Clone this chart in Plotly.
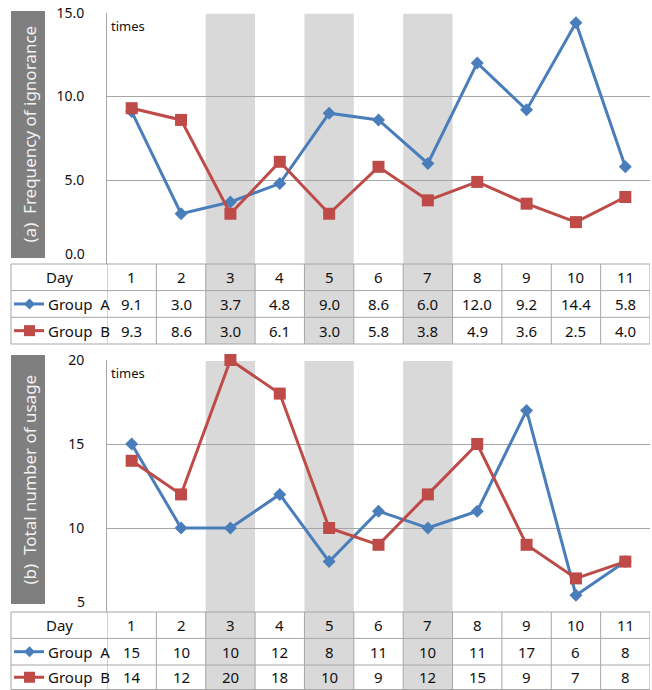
import plotly.graph_objects as go

# ---------------- data ----------------
days = [1, 2, 3, 4, 5, 6, 7, 8, 9, 10, 11]
shaded_days = [3, 5, 7]

ign_a = [9.1, 3.0, 3.7, 4.8, 9.0, 8.6, 6.0, 12.0, 9.2, 14.4, 5.8]
ign_b = [9.3, 8.6, 3.0, 6.1, 3.0, 5.8, 3.8, 4.9, 3.6, 2.5, 4.0]

use_a = [15, 10, 10, 12, 8, 11, 10, 11, 17, 6, 8]
use_b = [14, 12, 20, 18, 10, 9, 12, 15, 9, 7, 8]

top_ticks = [0, 5, 10, 15]
top_tick_text = ["0.0", "5.0", "10.0", "15.0"]
bot_ticks = [5, 10, 15, 20]
bot_tick_text = ["5", "10", "15", "20"]

top_title = "(a)  Frequency of ignorance"
bot_title = "(b)  Total number of usage"
unit_text = "times"
row_labels = ["Day", "Group A", "Group B"]

# ---------------- styling ----------------
W, H = 652, 690
BLUE = "#4A7EBB"
RED = "#BE4B48"
SHADE = "#D9D9D9"
GRID = "#A6A6A6"
FONT = "Noto Sans"


def PX(x):
    return x / W


def PY(y):
    return 1 - y / H


panels = [
    dict(xa="x", ya="y", a=ign_a, b=ign_b, fmt="{:.1f}", plot_top=12.7, plot_bot=264,
         rows=[264, 290.6, 317.3, 344], box=(11, 45, 11, 258), title=top_title,
         rng=[0, 15], ticks=top_ticks, ticktext=top_tick_text),
    dict(xa="x2", ya="y2", a=use_a, b=use_b, fmt="{:d}", plot_top=360, plot_bot=612,
         rows=[612, 638.4, 665, 689.5], box=(11, 45, 355, 604), title=bot_title,
         rng=[5, 20], ticks=bot_ticks, ticktext=bot_tick_text),
]

fig = go.Figure()
shapes = []
annotations = []
layout_axes = {}


def ann(**kw):
    kw.setdefault("showarrow", False)
    kw.setdefault("xanchor", "center")
    kw.setdefault("yanchor", "middle")
    annotations.append(kw)


for i, p in enumerate(panels):
    xa, ya = p["xa"], p["ya"]
    xname = "xaxis" if i == 0 else "xaxis2"
    yname = "yaxis" if i == 0 else "yaxis2"
    layout_axes[xname] = dict(
        domain=[PX(107), PX(650)], range=[0.5, 11.5], showgrid=False, zeroline=False,
        showticklabels=False, ticks="", showline=False, anchor=ya, fixedrange=True,
        automargin=False,
    )
    layout_axes[yname] = dict(
        domain=[PY(p["plot_bot"]), PY(p["plot_top"])], range=p["rng"],
        tickvals=p["ticks"][1:], ticktext=p["ticktext"][1:],
        showgrid=True, gridcolor=GRID, gridwidth=1, zeroline=False,
        showline=True, linecolor=GRID, linewidth=1, ticks="",
        ticklabelstandoff=19, tickfont=dict(family=FONT, size=14, color="#111111"),
        anchor=xa, fixedrange=True, automargin=False,
    )
    # lowest tick label sits just above the table line
    ann(x=PX(87), xref="paper", xanchor="right", y=p["ticks"][0], yref=ya, yshift=11,
        text=p["ticktext"][0], font=dict(family=FONT, size=14, color="#111111"))

    # shaded day columns (plot + table)
    for d in shaded_days:
        shapes.append(dict(
            type="rect", xref=xa, yref="paper", x0=d - 0.5, x1=d + 0.5,
            y0=PY(p["rows"][-1]), y1=PY(p["plot_top"] + 1),
            fillcolor=SHADE, line=dict(width=0), layer="below",
        ))

    # series
    fig.add_trace(go.Scatter(
        x=days, y=p["a"], xaxis=xa, yaxis=ya, mode="lines+markers", name="Group A",
        line=dict(color=BLUE, width=3), marker=dict(symbol="diamond", size=10, color=BLUE),
        showlegend=False, cliponaxis=False,
    ))
    fig.add_trace(go.Scatter(
        x=days, y=p["b"], xaxis=xa, yaxis=ya, mode="lines+markers", name="Group B",
        line=dict(color=RED, width=3), marker=dict(symbol="square", size=12, color=RED),
        showlegend=False, cliponaxis=False,
    ))

    # title box
    x0, x1, y0, y1 = p["box"]
    shapes.append(dict(
        type="rect", xref="paper", yref="paper", x0=PX(x0), x1=PX(x1), y0=PY(y1), y1=PY(y0),
        fillcolor="#7F7F7F", line=dict(width=0), layer="below",
    ))
    ann(x=PX((x0 + x1) / 2 + 1), y=PY((y0 + y1) / 2), xref="paper", yref="paper",
        text=p["title"], textangle=-90,
        font=dict(family=FONT, size=17, color="#F2F2F2"))

    # unit text
    ann(x=PX(109), y=PY(p["plot_top"] + 2), xref="paper", yref="paper",
        xanchor="left", yanchor="top", text=unit_text,
        font=dict(family=FONT, size=13, color="#111111"))

    # table grid lines
    rows = p["rows"]
    for ry in rows:
        shapes.append(dict(
            type="line", xref="paper", yref="paper", x0=PX(11), x1=PX(650),
            y0=PY(ry), y1=PY(ry), line=dict(color=GRID, width=1),
        ))
    shapes.append(dict(
        type="line", xref="paper", yref="paper", x0=PX(11), x1=PX(11),
        y0=PY(rows[0]), y1=PY(rows[-1]), line=dict(color=GRID, width=1),
    ))
    for d in [0.5] + [k + 0.5 for k in days]:
        shapes.append(dict(
            type="line", xref=xa, yref="paper", x0=d, x1=d,
            y0=PY(rows[0]), y1=PY(rows[-1]), line=dict(color=GRID, width=1),
        ))

    centers = [(rows[k] + rows[k + 1]) / 2 for k in range(3)]
    tfont = dict(family=FONT, size=15, color="#111111")
    # row labels
    ann(x=PX(59), y=PY(centers[0]), xref="paper", yref="paper", text=row_labels[0], font=tfont)
    for k, (lab, col, sym) in enumerate([(row_labels[1], BLUE, "d"), (row_labels[2], RED, "s")]):
        cy = centers[k + 1]
        shapes.append(dict(
            type="line", xref="paper", yref="paper", x0=PX(14), x1=PX(44),
            y0=PY(cy), y1=PY(cy), line=dict(color=col, width=3),
        ))
        r = 5.5
        if sym == "d":
            path = (f"M {PX(29.5)},{PY(cy - r)} L {PX(29.5 + r)},{PY(cy)} "
                    f"L {PX(29.5)},{PY(cy + r)} L {PX(29.5 - r)},{PY(cy)} Z")
            shapes.append(dict(type="path", xref="paper", yref="paper", path=path,
                               fillcolor=col, line=dict(width=0)))
        else:
            shapes.append(dict(type="rect", xref="paper", yref="paper",
                               x0=PX(29.5 - r), x1=PX(29.5 + r), y0=PY(cy + r), y1=PY(cy - r),
                               fillcolor=col, line=dict(width=0)))
        ann(x=PX(46), y=PY(cy), xref="paper", yref="paper", xanchor="left",
            text=lab.replace(" ", "&nbsp;&nbsp;"), font=tfont)
    # values
    for j, d in enumerate(days):
        ann(x=d, xref=xa, y=PY(centers[0]), yref="paper", text=str(d), font=tfont)
        ann(x=d, xref=xa, y=PY(centers[1]), yref="paper",
            text=p["fmt"].format(p["a"][j]), font=tfont)
        ann(x=d, xref=xa, y=PY(centers[2]), yref="paper",
            text=p["fmt"].format(p["b"][j]), font=tfont)

fig.update_layout(
    width=W, height=H, margin=dict(l=0, r=0, t=0, b=0, pad=0),
    paper_bgcolor="white", plot_bgcolor="rgba(0,0,0,0)",
    font=dict(family=FONT), shapes=shapes, annotations=annotations,
    showlegend=False, **layout_axes,
)

fig.write_html("out.html")
